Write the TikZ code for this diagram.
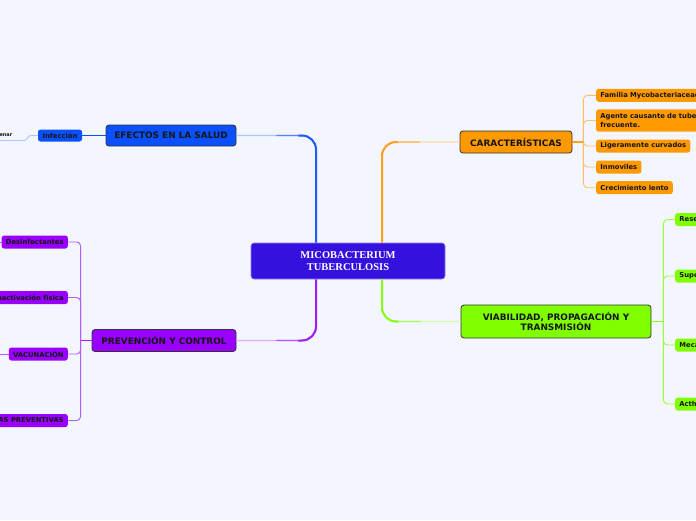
\documentclass[tikz,border=0pt]{standalone}
\usepackage{fontspec}
\setmainfont{DejaVu Sans}
\newfontfamily\serifb{Liberation Serif}
\usetikzlibrary{calc}
\definecolor{bg}{HTML}{F3F6FE}
\definecolor{centralC}{HTML}{3510DE}
\definecolor{blueM}{HTML}{0A50FF}
\definecolor{blueD}{HTML}{1E5CFF}
\definecolor{blueL}{HTML}{AEC4FF}
\definecolor{orangeM}{HTML}{FF9900}
\definecolor{orangeD}{HTML}{FFA01A}
\definecolor{orangeL}{HTML}{FFD8A6}
\definecolor{orangeLeaf}{HTML}{FFBF66}
\definecolor{greenM}{HTML}{80FF00}
\definecolor{greenD}{HTML}{86FF10}
\definecolor{greenL}{HTML}{CDFFA6}
\definecolor{greenLeaf}{HTML}{99FF33}
\definecolor{purpleM}{HTML}{9900FF}
\definecolor{purpleD}{HTML}{A21CF5}
\definecolor{purpleL}{HTML}{DCB0FF}
\definecolor{purpleLeaf}{HTML}{B45AFF}
\definecolor{txt}{HTML}{151515}
\begin{document}
\begin{tikzpicture}[x=1pt,y=-1pt,
  centralbox/.style={fill=centralC, draw=centralC!55!white, line width=0.6pt, rounded corners=3pt,
    minimum width=194pt, minimum height=36pt, inner sep=0pt, text=white, align=center,
    font=\serifb\bfseries\fontsize{10.5}{12}\selectfont},
  mainbox/.style={draw=black!80, line width=0.8pt, rounded corners=3pt, inner sep=0pt,
    align=center, text=txt, font=\bfseries\fontsize{8.9}{10.7}\selectfont},
  leaf/.style={rounded corners=2.5pt, inner xsep=4.2pt, inner ysep=0pt, minimum height=13pt,
    text=txt, font=\bfseries\fontsize{6.8}{9}\selectfont},
  cutleaf/.style={leaf, text width=150pt, align=left},
  trunk/.style={line width=2pt, rounded corners=14pt},
  trunklight/.style={line width=1.4pt, rounded corners=14pt},
  leafline/.style={line width=0.9pt, rounded corners=4pt}
]
\fill[bg] (0,0) rectangle (696,520);
\useasboundingbox (0,0) rectangle (696,520);
\clip (0,0) rectangle (696,520);

% central
\node[centralbox] (c) at (348,261) {MICOBACTERIUM\\TUBERCULOSIS};

% main branches
\node[mainbox, fill=blueM, minimum width=130pt, minimum height=21pt] (efe) at (171,135.5) {EFECTOS EN LA SALUD};
\node[mainbox, fill=orangeM, minimum width=112pt, minimum height=22pt] (car) at (516,142) {CARACTERÍSTICAS};
\node[mainbox, fill=greenM, minimum width=190pt, minimum height=33pt] (via) at (556,321.5) {VIABILIDAD, PROPAGACIÓN Y\\TRANSMISIÓN};
\node[mainbox, fill=purpleM, minimum width=144pt, minimum height=22pt] (prev) at (164,340.5) {PREVENCIÓN Y CONTROL};

% main connectors
\coordinate (cb) at ($(c.north)+(-32,0)$);
\coordinate (co) at ($(c.north)+(34,0)$);
\coordinate (cp) at ($(c.south)+(-32,0)$);
\coordinate (cg) at ($(c.south)+(34,0)$);

\draw[trunklight, blueL] (cb) |- (efe.east);
\draw[trunklight, blueM!55!blueL] (cb) |- ($(efe.east)+(40,0)$);
\draw[trunk, blueD] (cb) |- ($(efe.east)+(62,0)$);

\draw[trunklight, orangeL] (co) |- (car.west);
\draw[trunklight, orangeM!55!orangeL] (co) |- ($(car.west)+(-40,0)$);
\draw[trunk, orangeD] (co) |- ($(car.west)+(-62,0)$);

\draw[trunklight, purpleL] (cp) |- (prev.east);
\draw[trunklight, purpleM!55!purpleL] (cp) |- ($(prev.east)+(40,0)$);
\draw[trunk, purpleD] (cp) |- ($(prev.east)+(62,0)$);

\draw[trunklight, greenL] (cg) |- (via.west);
\draw[trunklight, greenM!55!greenL] (cg) |- ($(via.west)+(-40,0)$);
\draw[trunk, greenD] (cg) |- ($(via.west)+(-62,0)$);

% efectos children
\node[leaf, fill=blueM, minimum width=44pt, minimum height=12pt, inner xsep=0pt] (inf) at (60,135.5) {Infección};
\draw[line width=1pt, blueM] (efe.west) -- (inf.east);
\node[anchor=east, inner sep=0pt, text=txt, font=\bfseries\fontsize{5}{6}\selectfont] (ena) at (12.5,135.5) {enar};
\coordinate (enaend) at (0,140.5);
\draw[line width=0.9pt, blueL] (inf.west) -- (31,135.5) to[out=180,in=0] (24,140.5) -- (enaend);

% caracteristicas children
\node[cutleaf, fill=orangeM, anchor=west] (o1) at (596,95.3) {Familia Mycobacteriaceae};
\node[cutleaf, fill=orangeM, anchor=west, minimum height=22.4pt, font=\bfseries\fontsize{6.8}{9}\selectfont] (o2) at (596,120.5) {Agente causante de tuberculosis\\frecuente.};
\node[leaf, fill=orangeM, anchor=west] (o3) at (596,146) {Ligeramente curvados};
\node[leaf, fill=orangeM, anchor=west] (o4) at (596,167) {Inmoviles};
\node[leaf, fill=orangeM, anchor=west] (o5) at (596,187.7) {Crecimiento lento};
\coordinate (cj) at ($(car.east)+(11,0)$);
\draw[line width=1.2pt, orangeD] (car.east) -- (cj);
\foreach \n in {o1,o2,o3,o4,o5} \draw[leafline, orangeLeaf] (cj) |- (\n.west);

% viabilidad children
\node[cutleaf, fill=greenM, anchor=west] (g1) at (675,219.5) {Rese};
\node[cutleaf, fill=greenM, anchor=west] (g2) at (675,276) {Supe};
\node[cutleaf, fill=greenM, anchor=west] (g3) at (675,345) {Meca};
\node[cutleaf, fill=greenM, anchor=west] (g4) at (675,404) {Acth};
\coordinate (gj) at ($(via.east)+(12,0)$);
\draw[line width=1.2pt, greenD] (via.east) -- (gj);
\foreach \n in {g1,g2,g3,g4} \draw[leafline, greenLeaf] (gj) |- (\n.west);

% prevencion children
\node[leaf, fill=purpleM, anchor=east] (p1) at (68,242) {Desinfectantes};
\node[leaf, fill=purpleM, anchor=east] (p2) at (68,297.5) {Inactivación física};
\node[leaf, fill=purpleM, anchor=east] (p3) at (68,354) {VACUNACIÓN};
\node[leaf, fill=purpleM, anchor=east] (p4) at (68,420.5) {MEDIDAS PREVENTIVAS};
\coordinate (pj) at ($(prev.west)+(-11,0)$);
\draw[line width=1.2pt, purpleD] (prev.west) -- (pj);
\foreach \n in {p1,p2,p3,p4} \draw[leafline, purpleLeaf] (pj) |- (\n.east);
\coordinate (p1l) at (0,242);
\coordinate (p3l) at (0,354);
\draw[line width=0.9pt, purpleLeaf] (p1.west) -- (p1l);
\draw[line width=0.9pt, purpleLeaf] (p3.west) -- (p3l);
\end{tikzpicture}
\end{document}
